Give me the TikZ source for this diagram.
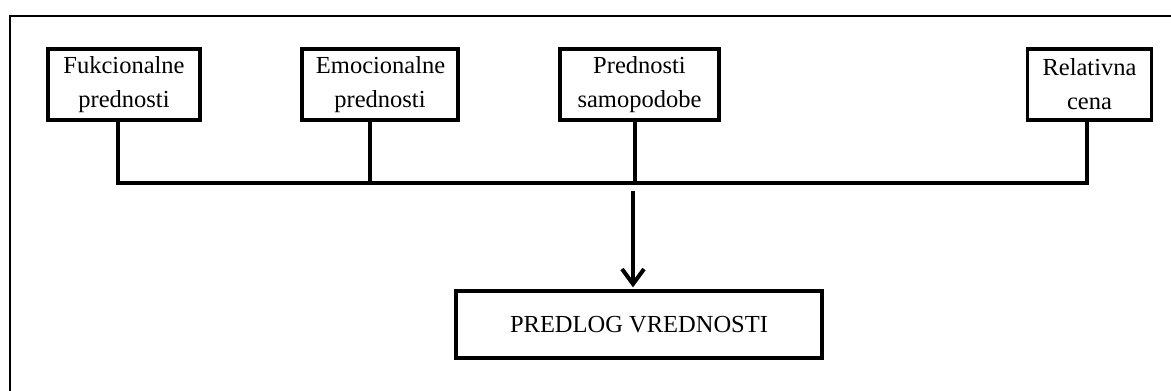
\documentclass[tikz,border=0pt]{standalone}
\usepackage{fontspec}
\setmainfont{Liberation Serif}
\usetikzlibrary{automata,positioning,arrows.meta}

\begin{document}
\begin{tikzpicture}[x=1pt,y=-1pt,semithick]
		\tikzstyle{every state}=[rectangle, draw=black, fill=white, text=black, line width=3.2pt, inner sep=0pt, minimum height=71pt, font=\fontsize{24.5}{34}\selectfont]
		\tikzstyle{bus}=[draw=black, line width=4pt]
		
		\useasboundingbox (0,0) rectangle (1171,391);
		% outer frame, open to the right and bottom
		\draw[line width=1.6pt] (10,400) -- (10,16) -- (1180,16);
		
		\node[state, minimum width=152pt] (1) at (124,84.5)   {\parbox{4.5cm}{\centering Fukcionalne\\prednosti}};
		\node[state, minimum width=156pt] (2) at (380,84.5)   {\parbox{4.5cm}{\centering Emocionalne\\prednosti}};
		\node[state, minimum width=159pt] (3) at (639.5,84.5) {\parbox{4.5cm}{\centering Prednosti\\samopodobe}};
		\node[state, minimum width=124pt] (4) at (1089.5,84.5) {\parbox{3.6cm}{\centering Relativna\\cena}};
		\node[state, minimum width=366pt, minimum height=67pt] (5) at (639,324.5) {PREDLOG VREDNOSTI};
		
		\coordinate (j1) at (118,183);
		\coordinate (j2) at (370,183);
		\coordinate (j3) at (635,183);
		\coordinate (j4) at (1087,183);
		\coordinate (a) at (633,191);
		
		\path[bus] (j1 |- 1.south) -- (j1) -- (j4) -- (j4 |- 4.south);
		\path[bus] (j2 |- 2.south) -- (j2);
		\path[bus] (j3 |- 3.south) -- (j3);
		\path[bus, -{Straight Barb[length=15pt,width=22pt]}, shorten >=2pt] (a) -- (a |- 5.north);
\end{tikzpicture}
\end{document}
